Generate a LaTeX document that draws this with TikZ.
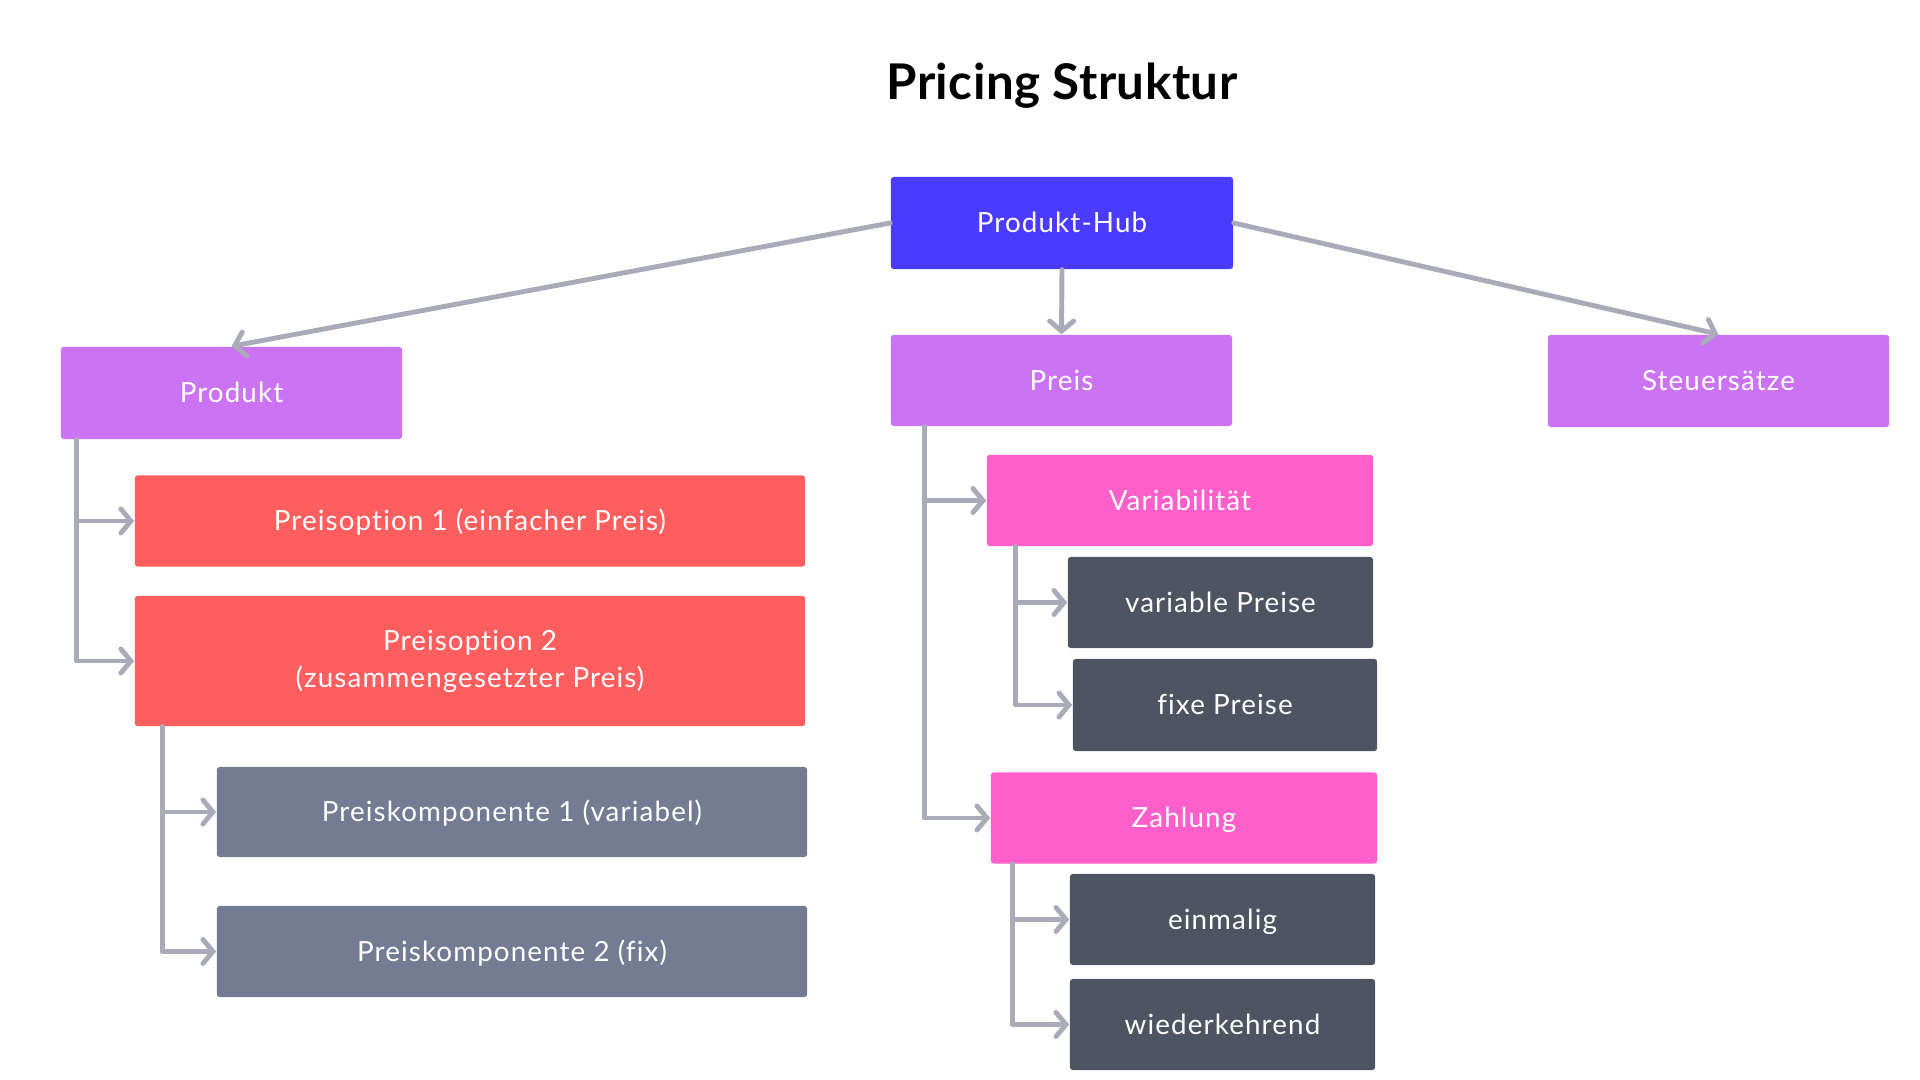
\documentclass[tikz,border=0pt]{standalone}
\usepackage{fontspec}
\setmainfont[LetterSpace=4,Ligatures={NoCommon,NoContextual}]{Lato}
\usetikzlibrary{positioning,arrows.meta}
\usepackage{xcolor}
\definecolor{hubblue}{HTML}{4B3BFF}
\definecolor{lila}{HTML}{CC73F3}
\definecolor{coral}{HTML}{FF5E5E}
\definecolor{magenta}{HTML}{FF5FCB}
\definecolor{slate}{HTML}{737C93}
\definecolor{dunkel}{HTML}{4F5463}
\definecolor{linie}{HTML}{A9ACB8}

\begin{document}
\begin{tikzpicture}[x=0.01cm,y=-0.01cm,
    every node/.style={font=\fontsize{7.9pt}{10.5pt}\selectfont},
    box/.style={rounded corners=0.8pt,inner sep=0pt,text=white,align=center,minimum height=0.91cm,text height=1.5ex,text depth=0.4ex},
    link/.style={draw=linie,line width=1.4pt,line cap=round,line join=round,-{Straight Barb[length=0.1cm,width=0.24cm,line cap=round]}}]
    \useasboundingbox (0,0) rectangle (1920,1080);
    \node[font=\fontsize{14pt}{16pt}\selectfont\bfseries\addfontfeatures{LetterSpace=1}] (titel) at (1062,86) {Pricing Struktur};

    \node[box,fill=hubblue,minimum width=3.42cm,minimum height=0.92cm] (hub) at (1062,223) {Produkt-Hub};
    \node[box,fill=lila,minimum width=3.41cm,minimum height=0.92cm] (produkt) at (231.5,393) {Produkt};
    \node[box,fill=lila,minimum width=3.41cm] (preis) at (1061.5,380.5) {Preis};
    \node[box,fill=lila,minimum width=3.41cm,minimum height=0.92cm] (steuer) at (1718.5,381) {Steuersätze};

    \node[box,fill=coral,minimum width=6.7cm] (opt1) at (470,521) {Preisoption 1 (einfacher Preis)};
    \node[box,fill=coral,minimum width=6.7cm,minimum height=1.3cm,text height=,text depth=] (opt2) at (470,661) {Preisoption 2\\(zusammengesetzter Preis)};
    \node[box,fill=slate,minimum width=5.9cm,minimum height=0.9cm] (komp1) at (512,812) {Preiskomponente 1 (variabel)};
    \node[box,fill=slate,minimum width=5.9cm] (komp2) at (512,951.5) {Preiskomponente 2 (fix)};

    \node[box,fill=magenta,minimum width=3.86cm] (var) at (1180,500.5) {Variabilität};
    \node[box,fill=dunkel,minimum width=3.05cm] (varpreise) at (1220.5,602.5) {variable Preise};
    \node[box,fill=dunkel,minimum width=3.04cm,minimum height=0.92cm] (fixpreise) at (1225,705) {fixe Preise};
    \node[box,fill=magenta,minimum width=3.86cm] (zahlung) at (1184,818) {Zahlung};
    \node[box,fill=dunkel,minimum width=3.05cm] (einmal) at (1222.5,919.5) {einmalig};
    \node[box,fill=dunkel,minimum width=3.05cm] (wieder) at (1222.5,1024.5) {wiederkehrend};

    \draw[link] (hub.west) -- (produkt.north);
    \draw[link] (hub.south) -- (preis.north);
    \draw[link] (hub.east) -- (steuer.north);

    \draw[link] ([xshift=0.16cm]produkt.south west) |- (opt1.west);
    \draw[link] ([xshift=0.16cm]produkt.south west) |- (opt2.west);
    \draw[link] ([xshift=0.28cm]opt2.south west) |- (komp1.west);
    \draw[link] ([xshift=0.28cm]opt2.south west) |- (komp2.west);

    \draw[link] ([xshift=0.34cm]preis.south west) |- (var.west);
    \draw[link] ([xshift=0.34cm]preis.south west) |- (zahlung.west);
    \draw[link] ([xshift=0.29cm]var.south west) |- (varpreise.west);
    \draw[link] ([xshift=0.29cm]var.south west) |- (fixpreise.west);
    \draw[link] ([xshift=0.22cm]zahlung.south west) |- (einmal.west);
    \draw[link] ([xshift=0.22cm]zahlung.south west) |- (wieder.west);
\end{tikzpicture}
\end{document}
